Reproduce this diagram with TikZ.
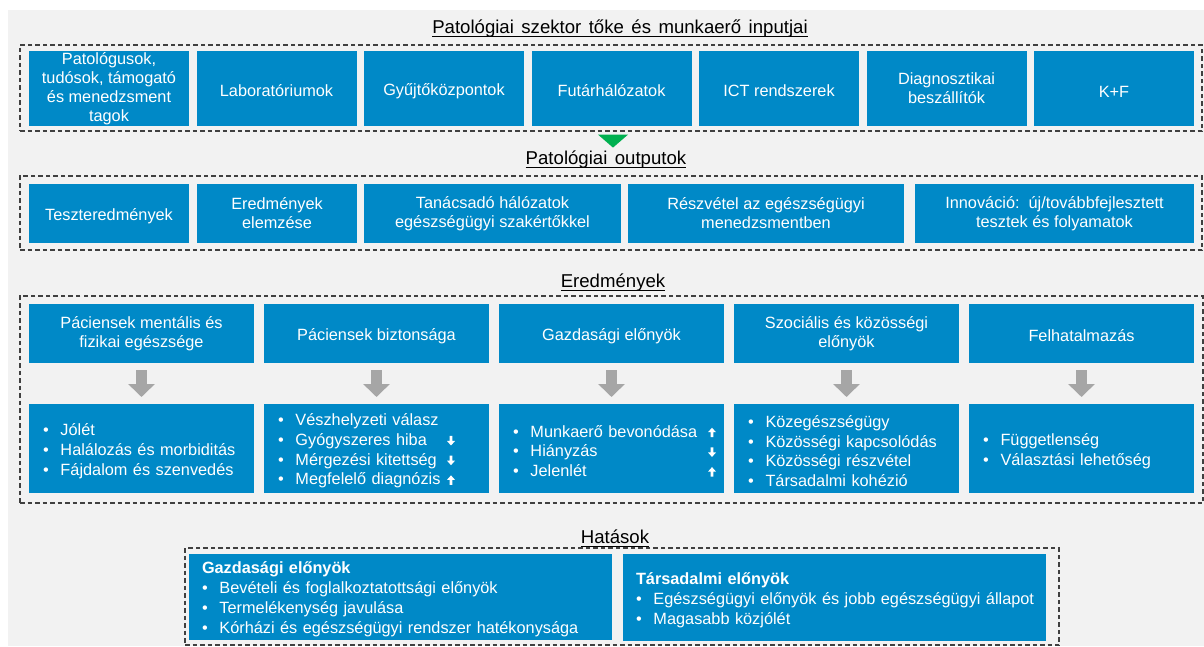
\documentclass[tikz,border=0pt]{standalone}
\usepackage{fontspec}
\setmainfont{Liberation Sans}
\usetikzlibrary{positioning, fit, arrows.meta}

\definecolor{pblue}{HTML}{0089C7}
\definecolor{bggray}{HTML}{F2F2F2}
\definecolor{dashgray}{HTML}{404040}
\definecolor{arrgray}{HTML}{A6A6A6}
\definecolor{flowgreen}{HTML}{00B050}

\newsavebox{\ttlbox}
\newcommand{\ttlul}[1]{\sbox{\ttlbox}{#1}\rlap{\usebox{\ttlbox}}\rule[-3.5pt]{\wd\ttlbox}{1.2pt}}
\newcommand{\wsp}{\ \hspace{2.3pt}}
\newcommand{\boxfont}{\fontsize{16.3pt}{19pt}\selectfont}
\newcommand{\lstfont}{\fontsize{16.3pt}{19.7pt}\selectfont}
\newcommand{\ttlfont}{\fontsize{18.6pt}{21pt}\selectfont}
\newcommand{\bul}[1]{\mbox{\makebox[17.5pt][l]{•}#1}}
\newcommand{\bularr}[3]{\makebox[#1][l]{\bul{#2}}#3}
\newcommand{\arrup}{\tikz[baseline=0pt,x=1pt,y=1pt]\fill[white] (2.7,0) -- (5.3,0) -- (5.3,5) -- (8,5) -- (4,9.5) -- (0,5) -- (2.7,5) -- cycle;}
\newcommand{\arrdown}{\tikz[baseline=0pt,x=1pt,y=1pt]\fill[white] (2.7,9.5) -- (5.3,9.5) -- (5.3,4.5) -- (8,4.5) -- (4,0) -- (0,4.5) -- (2.7,4.5) -- cycle;}

\tikzstyle{group} = [rectangle, draw=dashgray, line width=1.2pt, dash pattern=on 4.5pt off 3pt, inner sep=0pt]
\tikzstyle{ttl} = [font=\ttlfont, inner sep=0pt]
\tikzstyle{bluebox} = [rectangle, fill=pblue, text=white, font=\boxfont, inner sep=0pt, outer sep=0pt, align=center, execute at begin node={\rule{0pt}{17pt}}]
\tikzstyle{listbox} = [bluebox, font=\lstfont, align=left, inner xsep=14pt]
\tikzstyle{downarrow} = [line width=11pt, draw=arrgray, -{Triangle[width=26pt,length=13pt]}, shorten <=7pt, shorten >=7pt]

\begin{document}
\begin{tikzpicture}[x=1pt, y=-1pt]
\useasboundingbox (0,0) rectangle (1204,646);
\fill[bggray] (8,10) rectangle (1204,646);

\node (ttlIn) [ttl] at (620,28.5) {\ttlul{Patológiai\wsp szektor\wsp tőke\wsp és\wsp munkaerő\wsp inputjai}};
\node (grpIn) [group, fit={(20,45) (1202,131)}] {};

\node (in1) [bluebox, minimum width=160pt, minimum height=75pt, anchor=north west] at (29,51) {Patológusok,\\tudósok, támogató\\és menedzsment\\tagok};
\node (in2) [bluebox, minimum width=160pt, minimum height=75pt, right=7.5pt of in1] {Laboratóriumok};
\node (in3) [bluebox, minimum width=160pt, minimum height=75pt, right=7.5pt of in2] {Gyűjtőközpontok};
\node (in4) [bluebox, minimum width=160pt, minimum height=75pt, right=7.5pt of in3] {Futárhálózatok};
\node (in5) [bluebox, minimum width=160pt, minimum height=75pt, right=7.5pt of in4] {ICT rendszerek};
\node (in6) [bluebox, minimum width=160pt, minimum height=75pt, right=7.5pt of in5] {Diagnosztikai\\beszállítók};
\node (in7) [bluebox, minimum width=160pt, minimum height=75pt, right=7.5pt of in6] {K+F};

\fill[flowgreen] ([xshift=-13pt,yshift=-3pt]grpIn.south) -- ([xshift=17pt,yshift=-3pt]grpIn.south) -- ([xshift=2pt,yshift=-16pt]grpIn.south) -- cycle;

\node (ttlOut) [ttl] at (606,159.5) {\ttlul{Patológiai\wsp outputok}};
\node (grpOut) [group, fit={(20,176) (1202,250)}] {};

\node (out1) [bluebox, minimum width=160pt, minimum height=59pt, anchor=north west] at (29,184) {Teszteredmények};
\node (out2) [bluebox, minimum width=160pt, minimum height=59pt, right=8pt of out1] {Eredmények\\elemzése};
\node (out3) [bluebox, minimum width=257pt, minimum height=59pt, right=7pt of out2] {Tanácsadó hálózatok\\egészségügyi szakértőkkel};
\node (out4) [bluebox, minimum width=276pt, minimum height=59pt, right=7pt of out3] {Részvétel az egészségügyi\\menedzsmentben};
\node (out5) [bluebox, minimum width=279pt, minimum height=59pt, right=11pt of out4] {Innováció:\ \ új/továbbfejlesztett\\tesztek és folyamatok};

\node (ttlRes) [ttl] at (613,282.5) {\ttlul{Eredmények}};
\node (grpRes) [group, fit={(20,296) (1203,503)}] {};

\node (res1) [bluebox, minimum width=225pt, minimum height=59pt, anchor=north west] at (29,304) {Páciensek mentális és\\fizikai egészsége};
\node (res2) [bluebox, minimum width=225pt, minimum height=59pt, right=10pt of res1] {Páciensek biztonsága};
\node (res3) [bluebox, minimum width=225pt, minimum height=59pt, right=10pt of res2] {Gazdasági előnyök};
\node (res4) [bluebox, minimum width=225pt, minimum height=59pt, right=10pt of res3] {Szociális és közösségi\\előnyök};
\node (res5) [bluebox, minimum width=225pt, minimum height=59pt, right=10pt of res4] {Felhatalmazás};

\node (lst1) [listbox, text width=197pt, minimum height=89pt, below=41pt of res1] {\bul{Jólét}\\\bul{Halálozás és morbiditás}\\\bul{Fájdalom és szenvedés}};
\node (lst2) [listbox, text width=197pt, minimum height=89pt, below=41pt of res2] {\bul{Vészhelyzeti válasz}\\\bularr{169pt}{Gyógyszeres hiba}{\arrdown}\\\bularr{169pt}{Mérgezési kitettség}{\arrdown}\\\bularr{169pt}{Megfelelő diagnózis}{\arrup}};
\node (lst3) [listbox, text width=197pt, minimum height=89pt, below=41pt of res3] {\bularr{195pt}{Munkaerő bevonódása}{\arrup}\\\bularr{195pt}{Hiányzás}{\arrdown}\\\bularr{195pt}{Jelenlét}{\arrup}};
\node (lst4) [listbox, text width=197pt, minimum height=89pt, below=41pt of res4] {\bul{Közegészségügy}\\\bul{Közösségi kapcsolódás}\\\bul{Közösségi részvétel}\\\bul{Társadalmi kohézió}};
\node (lst5) [listbox, text width=197pt, minimum height=89pt, below=41pt of res5] {\bul{Függetlenség}\\\bul{Választási lehetőség}};

\draw [downarrow] (res1) -- (lst1);
\draw [downarrow] (res2) -- (lst2);
\draw [downarrow] (res3) -- (lst3);
\draw [downarrow] (res4) -- (lst4);
\draw [downarrow] (res5) -- (lst5);

\node (ttlImp) [ttl] at (615,538.5) {\ttlul{Hatások}};
\node (grpImp) [group, fit={(185,548) (1059,645)}] {};

\node (imp1) [listbox, inner xsep=13pt, text width=397pt, minimum height=86pt, font=\fontsize{16.3pt}{20pt}\selectfont, anchor=north west] at (189,554) {\textbf{Gazdasági előnyök}\\\bul{Bevételi és foglalkoztatottsági előnyök}\\\bul{Termelékenység javulása}\\\bul{Kórházi és egészségügyi rendszer hatékonysága}};
\node (imp2) [listbox, inner xsep=13pt, text width=397pt, minimum height=87pt, font=\fontsize{16.3pt}{20pt}\selectfont, anchor=north west] at (623,554) {\textbf{Társadalmi előnyök}\\\bul{Egészségügyi előnyök és jobb egészségügyi állapot}\\\bul{Magasabb közjólét}};
\end{tikzpicture}
\end{document}
